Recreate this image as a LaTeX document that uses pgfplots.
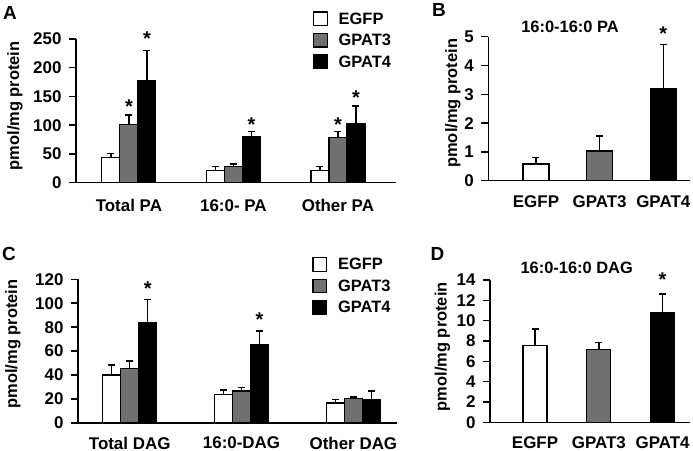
\documentclass[border=0pt]{standalone}
\usepackage{fontspec}
\setmainfont{Liberation Sans}
\usepackage{pgfplots}
\pgfplotsset{compat=1.18}
\definecolor{gpatgray}{RGB}{112,112,112}
\newcommand{\fs}{\fontsize{16.5}{18}\selectfont\bfseries}
\newcommand{\ft}{\fontsize{17}{18}\selectfont\bfseries}
\newcommand{\fst}{\fontsize{20}{22}\selectfont\bfseries}
\newcommand{\fl}{\fontsize{19}{21}\selectfont\bfseries}
\tikzset{astk/.style={font=\fst, yshift=-5bp}}
\pgfplotsset{
  panel/.style={
    scale only axis,
    axis x line*=bottom, axis y line*=left,
    axis line style={line width=1.5bp, -},
    tick align=outside,
    ytick pos=left,
    major tick length=7bp,
    y tick style={line width=1.5bp, black},
    x tick style={draw=none},
    ticklabel style={font=\ft},
    yticklabel style={xshift=-4bp},
    /pgf/number format/assume math mode=true,
    ymin=0, clip=false,
    xtick={0,1,2},
  },
  lg/.style={legend style={at={(axis description cs:#1)}, anchor=north west, draw=none, fill=none,
    font=\fs, inner sep=0pt, row sep=4.5bp, nodes={inner sep=2bp},
    /tikz/every odd column/.append style={column sep=9bp}},
    legend cell align=left},
  sq/.style={legend image code/.code={\draw[##1, line width=1.2bp] (0bp,-6.5bp) rectangle (13.5bp,7bp);}},
  eb/.style={error bars/.cd, y dir=plus, y explicit,
    error bar style={line width=1.5bp, black},
    error mark options={rotate=90, mark size=3.5bp, line width=1.5bp, black}},
}
\begin{document}
\begin{tikzpicture}[x=1bp,y=1bp]
\useasboundingbox (0,0) rectangle (693,451);
% ---------------- Panel A
\begin{axis}[panel, at={(76bp,268.3bp)}, anchor=south west,
  width=320bp, height=143.7bp,
  xmin=-0.506, xmax=2.556, ymax=250, ytick={0,50,100,150,200,250},
  xticklabels={Total PA,16:0- PA,Other PA},
  xticklabel style={yshift=-6bp},
  ybar=0pt, bar width=18bp, lg={0.74,1.199}]
\addplot[sq, draw=black, line width=1.2bp, fill=white, eb] coordinates {(0,43.5) +- (0,7.5) (1,21.5) +- (0,6.5) (2,21.5) +- (0,6.5)};
\addplot[sq, draw=black, line width=1.2bp, fill=gpatgray, eb] coordinates {(0,101) +- (0,17) (1,28) +- (0,4.5) (2,79) +- (0,10)};
\addplot[sq, draw=black, line width=1.2bp, fill=black, eb] coordinates {(0,177) +- (0,53) (1,80) +- (0,9) (2,102) +- (0,31)};
\legend{EGFP,GPAT3,GPAT4}
\node[astk] at (axis cs:0,141) {*};
\node[astk, xshift=18bp] at (axis cs:0,260) {*};
\node[astk, xshift=18bp] at (axis cs:1,110) {*};
\node[astk] at (axis cs:2,110) {*};
\node[astk, xshift=18bp] at (axis cs:2,156.6) {*};
\end{axis}
% ---------------- Panel B
\begin{axis}[panel, at={(488.3bp,270.3bp)}, anchor=south west,
  width=201.7bp, height=144bp,
  xmin=-0.749, xmax=2.42, ymax=5, ytick={0,1,2,3,4,5},
  xticklabels={EGFP,GPAT3,GPAT4},
  xticklabel style={yshift=-4bp},
  ybar=0pt, bar width=26bp]
\addplot[bar shift=0pt, draw=black, line width=1.2bp, fill=white, eb] coordinates {(0,0.58) +- (0,0.23)};
\addplot[bar shift=0pt, draw=black, line width=1.2bp, fill=gpatgray, eb] coordinates {(1,1.03) +- (0,0.52)};
\addplot[bar shift=0pt, draw=black, line width=1.2bp, fill=black, eb] coordinates {(2,3.19) +- (0,1.54)};
\node[astk] at (axis cs:2,5.29) {*};
\end{axis}
% ---------------- Panel C
\begin{axis}[panel, at={(78bp,28bp)}, anchor=south west,
  width=318.7bp, height=143.7bp,
  xmin=-0.462, xmax=2.387, ymax=120, ytick={0,20,40,60,80,100,120},
  xticklabels={Total DAG,16:0-DAG,Other DAG},
  xticklabel style={yshift=-3.5bp},
  ybar=0pt, bar width=18bp, lg={0.735,1.161}]
\addplot[sq, draw=black, line width=1.2bp, fill=white, eb] coordinates {(0,40) +- (0,8.4) (1,24) +- (0,3.6) (2,16.7) +- (0,2.8)};
\addplot[sq, draw=black, line width=1.2bp, fill=gpatgray, eb] coordinates {(0,45.6) +- (0,6.1) (1,26.7) +- (0,2.8) (2,20.6) +- (0,1.1)};
\addplot[sq, draw=black, line width=1.2bp, fill=black, eb] coordinates {(0,83.6) +- (0,19.4) (1,65.2) +- (0,11.7) (2,19.5) +- (0,7.2)};
\legend{EGFP,GPAT3,GPAT4}
\node[astk, xshift=18bp] at (axis cs:0,116.7) {*};
\node[astk, xshift=18bp] at (axis cs:1,90.2) {*};
\end{axis}
% ---------------- Panel D
\begin{axis}[panel, at={(490bp,28.7bp)}, anchor=south west,
  width=200bp, height=142.3bp,
  xmin=-0.706, xmax=2.43, ymax=14, ytick={0,2,4,6,8,10,12,14},
  xticklabels={EGFP,GPAT3,GPAT4},
  xticklabel style={yshift=-4bp},
  ybar=0pt, bar width=24bp]
\addplot[bar shift=0pt, draw=black, line width=1.2bp, fill=white, eb] coordinates {(0,7.54) +- (0,1.64)};
\addplot[bar shift=0pt, draw=black, line width=1.2bp, fill=gpatgray, eb] coordinates {(1,7.18) +- (0,0.69)};
\addplot[bar shift=0pt, draw=black, line width=1.2bp, fill=black, eb] coordinates {(2,10.8) +- (0,1.8)};
\node[astk] at (axis cs:2,14.5) {*};
\end{axis}
% ---------------- labels
\node[font=\fs, rotate=90] at (15,345.2) {pmol/mg protein};
\node[font=\fs, rotate=90] at (453,347.7) {pmol/mg protein};
\node[font=\fs, rotate=90] at (13,107) {pmol/mg protein};
\node[font=\fs, rotate=90] at (442.5,104.3) {pmol/mg protein};
\node[font=\fl] at (10,438) {A};
\node[font=\fl] at (439,441) {B};
\node[font=\fl] at (9,197) {C};
\node[font=\fl] at (437.5,197) {D};
\node[font=\fs] at (570,424.3) {16:0-16:0 PA};
\node[font=\fs] at (576.7,182.7) {16:0-16:0 DAG};
\end{tikzpicture}
\end{document}
